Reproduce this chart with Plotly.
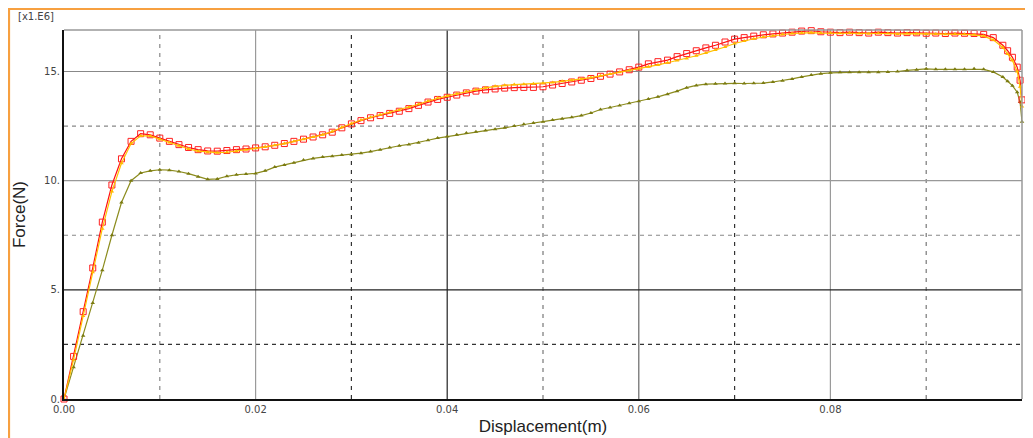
import plotly.graph_objects as go

disp = [0.000, 0.001, 0.002, 0.003, 0.004, 0.005, 0.006, 0.007, 0.008, 0.009,
        0.010, 0.011, 0.012, 0.013, 0.014, 0.015, 0.016, 0.017, 0.018, 0.019,
        0.020, 0.021, 0.022, 0.023, 0.024, 0.025, 0.026, 0.027, 0.028, 0.029,
        0.030, 0.031, 0.032, 0.033, 0.034, 0.035, 0.036, 0.037, 0.038, 0.039,
        0.040, 0.041, 0.042, 0.043, 0.044, 0.045, 0.046, 0.047, 0.048, 0.049,
        0.050, 0.051, 0.052, 0.053, 0.054, 0.055, 0.056, 0.057, 0.058, 0.059,
        0.060, 0.061, 0.062, 0.063, 0.064, 0.065, 0.066, 0.067, 0.068, 0.069,
        0.070, 0.071, 0.072, 0.073, 0.074, 0.075, 0.076, 0.077, 0.078, 0.079,
        0.080, 0.081, 0.082, 0.083, 0.084, 0.085, 0.086, 0.087, 0.088, 0.089,
        0.090, 0.091, 0.092, 0.093, 0.094, 0.095, 0.096, 0.097, 0.098, 0.0985,
        0.099, 0.0995, 0.0998, 0.1000]

force_red = [0.0, 1.95, 4.0, 6.0, 8.1, 9.8, 11.0, 11.8, 12.15, 12.1,
             11.95, 11.8, 11.65, 11.52, 11.42, 11.36, 11.35, 11.38, 11.42, 11.45,
             11.5, 11.55, 11.62, 11.7, 11.8, 11.9, 12.0, 12.1, 12.22, 12.42,
             12.6, 12.75, 12.88, 12.98, 13.08, 13.18, 13.3, 13.45, 13.6, 13.72,
             13.82, 13.92, 14.02, 14.1, 14.16, 14.2, 14.24, 14.26, 14.27, 14.27,
             14.3, 14.38, 14.45, 14.52, 14.6, 14.68, 14.78, 14.88, 14.98, 15.08,
             15.2, 15.35, 15.45, 15.52, 15.68, 15.82, 15.95, 16.08, 16.2, 16.35,
             16.48, 16.55, 16.62, 16.68, 16.72, 16.76, 16.8, 16.85, 16.87, 16.82,
             16.8, 16.78, 16.8, 16.78, 16.76, 16.8, 16.78, 16.76, 16.78, 16.77,
             16.75, 16.76, 16.74, 16.76, 16.75, 16.74, 16.7, 16.55, 16.2, 15.95,
             15.65, 15.2, 14.6, 13.7]

force_yellow = [0.0, 1.8, 3.8, 5.8, 7.8, 9.5, 10.8, 11.7, 12.05, 12.05,
                11.9, 11.75, 11.6, 11.45, 11.35, 11.3, 11.28, 11.3, 11.35, 11.42,
                11.48, 11.55, 11.62, 11.7, 11.8, 11.9, 12.0, 12.1, 12.25, 12.45,
                12.62, 12.78, 12.9, 13.02, 13.12, 13.24, 13.36, 13.5, 13.65, 13.78,
                13.88, 13.98, 14.08, 14.17, 14.25, 14.32, 14.37, 14.4, 14.42, 14.44,
                14.46, 14.5, 14.55, 14.6, 14.66, 14.72, 14.8, 14.88, 14.96, 15.05,
                15.14, 15.22, 15.3, 15.4, 15.5, 15.6, 15.72, 15.85, 15.98, 16.12,
                16.28, 16.4, 16.5, 16.58, 16.64, 16.7, 16.74, 16.76, 16.78, 16.76,
                16.76, 16.75, 16.76, 16.74, 16.73, 16.75, 16.74, 16.72, 16.74, 16.73,
                16.72, 16.72, 16.7, 16.72, 16.7, 16.68, 16.62, 16.45, 16.1, 15.8,
                15.5, 15.0, 14.3, 13.4]

force_olive = [0.0, 1.45, 2.9, 4.4, 5.9, 7.5, 9.0, 10.0, 10.35, 10.45,
               10.5, 10.48, 10.42, 10.32, 10.18, 10.06, 10.08, 10.2, 10.27, 10.3,
               10.33, 10.45, 10.62, 10.72, 10.82, 10.95, 11.02, 11.08, 11.12, 11.17,
               11.2, 11.26, 11.33, 11.42, 11.52, 11.6, 11.66, 11.74, 11.85, 11.95,
               12.02, 12.1, 12.18, 12.24, 12.3, 12.36, 12.42, 12.5, 12.58, 12.64,
               12.7, 12.78, 12.84, 12.9, 12.98, 13.1, 13.26, 13.35, 13.44, 13.54,
               13.64, 13.74, 13.84, 13.96, 14.1, 14.26, 14.36, 14.42, 14.44, 14.45,
               14.46, 14.45, 14.46, 14.47, 14.52, 14.58, 14.66, 14.75, 14.84, 14.9,
               14.94, 14.96, 14.96, 14.97, 14.97, 14.97, 14.98, 15.0, 15.05, 15.08,
               15.12, 15.1, 15.1, 15.1, 15.1, 15.12, 15.1, 14.98, 14.75, 14.55,
               14.35, 14.05, 13.6, 12.7]

x_ticks = [0.0, 0.02, 0.04, 0.06, 0.08, 0.10]
x_tick_labels = ["0.00", "0.02", "0.04", "0.06", "0.08", "0.10"]
y_ticks = [0, 5, 10, 15]
y_tick_labels = ["0.", "5.", "10.", "15."]

X_MAX = 0.1
Y_MAX = 16.9

fig = go.Figure()

fig.add_trace(go.Scatter(
    x=disp, y=force_olive, mode="lines+markers",
    line=dict(color="#8C8C1E", width=1.2),
    marker=dict(symbol="triangle-up", size=4, color="#7A7A10"),
    cliponaxis=False, showlegend=False))
fig.add_trace(go.Scatter(
    x=disp, y=force_red, mode="lines+markers",
    line=dict(color="#FF1010", width=1.2),
    marker=dict(symbol="square-open", size=6, color="#FF2020", line=dict(width=1)),
    cliponaxis=False, showlegend=False))
fig.add_trace(go.Scatter(
    x=disp, y=force_yellow, mode="lines+markers",
    line=dict(color="#FFC400", width=1.2),
    marker=dict(symbol="triangle-up", size=4, color="#FFB800"),
    cliponaxis=False, showlegend=False))

shapes = []
for xv, col in [(0.02, "#9a9a9a"), (0.04, "#222222"), (0.06, "#666666"), (0.08, "#9a9a9a")]:
    shapes.append(dict(type="line", xref="x", yref="paper", x0=xv, x1=xv, y0=0, y1=1,
                       line=dict(color=col, width=1.2), layer="below"))
for xv, col in [(0.01, "#888888"), (0.03, "#333333"), (0.05, "#777777"), (0.07, "#333333"), (0.09, "#777777")]:
    shapes.append(dict(type="line", xref="x", yref="paper", x0=xv, x1=xv, y0=0, y1=1,
                       line=dict(color=col, width=1.2, dash="4px,5px"), layer="below"))
for yv, col in [(5, "#222222"), (10, "#999999"), (15, "#888888")]:
    shapes.append(dict(type="line", xref="paper", yref="y", x0=0, x1=1, y0=yv, y1=yv,
                       line=dict(color=col, width=1.2), layer="below"))
for yv, col in [(2.5, "#333333"), (7.5, "#888888"), (12.5, "#888888")]:
    shapes.append(dict(type="line", xref="paper", yref="y", x0=0, x1=1, y0=yv, y1=yv,
                       line=dict(color=col, width=1.2, dash="4px,4px"), layer="below"))
shapes.append(dict(type="line", xref="paper", yref="paper", x0=0, x1=1, y0=1, y1=1,
                   line=dict(color="#999999", width=1.5)))
shapes.append(dict(type="line", xref="paper", yref="paper", x0=1, x1=1, y0=0, y1=1,
                   line=dict(color="#999999", width=1.5)))
shapes.append(dict(type="rect", xref="paper", yref="paper", x0=-0.0574, x1=1.2, y0=-0.3, y1=1.0569,
                   line=dict(color="#F7A040", width=2.2), layer="below"))

fig.update_layout(
    width=1025, height=430,
    margin=dict(l=56, r=11, t=22, b=39),
    paper_bgcolor="white", plot_bgcolor="white",
    shapes=shapes,
    font=dict(family="DejaVu Sans", color="#444444"),
    annotations=[dict(text="[x1.E6]", xref="paper", yref="paper", x=-0.05, y=1.036,
                      xanchor="left", yanchor="middle", showarrow=False,
                      font=dict(family="DejaVu Sans", size=10, color="#444444"))],
)

fig.update_xaxes(
    range=[0, X_MAX], tickvals=x_ticks, ticktext=x_tick_labels, automargin=False,
    showgrid=False, zeroline=False, showline=True, linecolor="#111111", linewidth=2,
    ticks="", tickfont=dict(family="DejaVu Sans", size=10, color="#444444"),
    title=dict(text="Displacement(m)", standoff=6,
               font=dict(family="Liberation Sans", size=17, color="#222222")),
)
fig.update_yaxes(
    range=[0, Y_MAX], tickvals=y_ticks, ticktext=y_tick_labels, automargin=False,
    showgrid=False, zeroline=False, showline=True, linecolor="#111111", linewidth=2,
    ticks="", tickfont=dict(family="DejaVu Sans", size=10, color="#444444"),
    title=dict(text="Force(N)", standoff=14,
               font=dict(family="Liberation Sans", size=17, color="#222222")),
)

fig.write_html("out.html")
